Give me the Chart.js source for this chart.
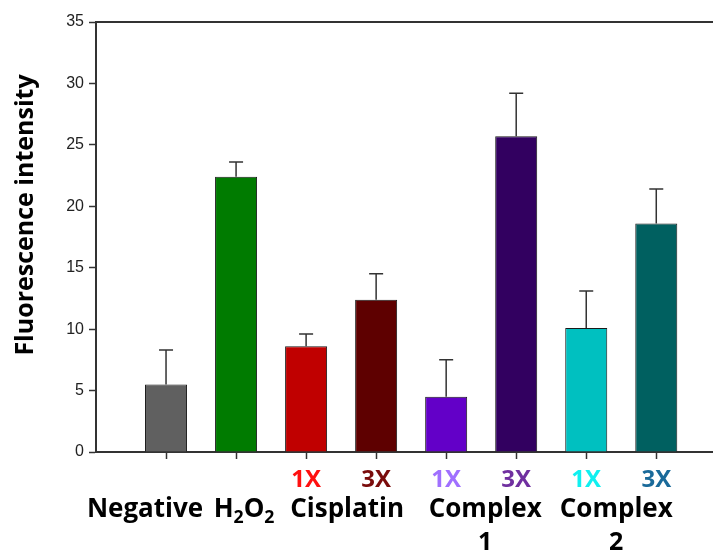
<!DOCTYPE html>
<html lang="en">
<head>
  <meta charset="UTF-8">
  <title>Fluorescence intensity</title>
  <script src="https://cdn.jsdelivr.net/npm/chart.js"></script>
  <style>
    body { margin: 0; background: #fff; }
    .wrap { width: 713px; height: 554px; position: relative; }
  </style>
</head>
<body>
<div class="wrap"><canvas id="chart"></canvas></div>
<script>
const categories = ['Negative', 'H2O2', 'Cisplatin 1X', 'Cisplatin 3X', 'Complex 1 1X', 'Complex 1 3X', 'Complex 2 1X', 'Complex 2 3X'];
const values = [5.5, 22.4, 8.6, 12.4, 4.5, 25.7, 10.1, 18.6];
const errors = [2.8, 1.2, 1.0, 2.1, 3.0, 3.5, 3.0, 2.8];
const barColors = ['#606060', '#007b00', '#c00000', '#5e0000', '#6300c8', '#320060', '#00c0c0', '#006060'];
const tickLabels = ['', '', '1X', '3X', '1X', '3X', '1X', '3X'];
const tickColors = ['#000', '#000', '#ff1010', '#7a0c0c', '#a070ff', '#7030a0', '#10f0f0', '#1a6a9a'];
const groupLabels = ['Negative', 'H₂O₂', 'Cisplatin', 'Complex', 'Complex'];
const groupSubLabels = ['', '', '', '1', '2'];
const groupSpans = [[0, 0], [1, 1], [2, 3], [4, 5], [6, 7]];
const yTicks = [0, 5, 10, 15, 20, 25, 30, 35];

const FONT = "'Open Sans', sans-serif";
const groupNudge = [-21, 8, 6, 4, -5];  // hand placement like the original

// draw text, turning ₂ into a lowered small 2
function chemText(ctx, text, cx, y, size) {
  const parts = [...text].map(ch => ch === '₂' ? { t: '2', sub: true } : { t: ch, sub: false });
  let w = 0;
  parts.forEach(p => {
    ctx.font = 'bold ' + (p.sub ? size * 0.68 : size) + 'px ' + FONT;
    p.w = ctx.measureText(p.t).width;
    w += p.w;
  });
  let x = cx - w / 2;
  parts.forEach(p => {
    ctx.font = 'bold ' + (p.sub ? size * 0.68 : size) + 'px ' + FONT;
    ctx.fillText(p.t, x, p.sub ? y + size * 0.22 : y);
    x += p.w;
  });
}

const errorBars = {
  id: 'errorBars',
  afterDatasetsDraw(chart) {
    const { ctx, scales: { y } } = chart;
    const meta = chart.getDatasetMeta(0);
    ctx.save();
    ctx.strokeStyle = '#333';
    ctx.lineWidth = 1.5;
    meta.data.forEach((bar, i) => {
      const top = y.getPixelForValue(values[i] + errors[i]);
      ctx.beginPath();
      ctx.moveTo(bar.x, bar.y);
      ctx.lineTo(bar.x, top);
      ctx.moveTo(bar.x - 7, top);
      ctx.lineTo(bar.x + 7, top);
      ctx.stroke();
    });
    ctx.restore();
  }
};

const extraText = {
  id: 'extraText',
  afterDraw(chart) {
    const { ctx, chartArea, scales: { x } } = chart;
    ctx.save();
    ctx.fillStyle = '#000';
    ctx.textAlign = 'left';
    ctx.textBaseline = 'alphabetic';
    groupLabels.forEach((lab, g) => {
      const [a, b] = groupSpans[g];
      const cx = (x.getPixelForValue(a + 1) + x.getPixelForValue(b + 1)) / 2 + groupNudge[g];
      chemText(ctx, lab, cx, chartArea.bottom + 65, 26);
      if (groupSubLabels[g]) chemText(ctx, groupSubLabels[g], cx, chartArea.bottom + 98, 25);
    });
    // y axis title
    ctx.translate(26, chartArea.top + 193);
    ctx.rotate(-Math.PI / 2);
    ctx.textAlign = 'center';
    ctx.textBaseline = 'middle';
    ctx.font = 'bold 25px ' + FONT;
    ctx.fillText('Fluorescence intensity', 0, 0);
    ctx.restore();
  }
};

new Chart(document.getElementById('chart'), {
  type: 'bar',
  data: {
    datasets: [{
      data: values.map((v, i) => ({ x: i + 1, y: v })),
      backgroundColor: barColors,
      borderColor: '#1a1a1a',
      borderWidth: 1,
      barPercentage: 0.6,
      categoryPercentage: 1
    }]
  },
  options: {
    responsive: true,
    maintainAspectRatio: false,
    animation: false,
    layout: { padding: { top: 22, right: 0, bottom: 0, left: 0 } },
    plugins: { legend: { display: false }, tooltip: { enabled: false } },
    scales: {
      x: {
        type: 'linear',
        position: 'bottom',
        min: 0,
        max: 8.81,
        offset: false,
        afterBuildTicks: s => { s.ticks = categories.map((c, i) => ({ value: i + 1 })); },
        afterFit: s => { s.height = 102; },
        grid: { offset: false, drawOnChartArea: false, drawTicks: true, tickLength: 7, tickColor: '#333', tickWidth: 1.5 },
        border: { color: '#333', width: 2 },
        ticks: {
          autoSkip: false,
          maxRotation: 0,
          padding: 7,
          callback: (v, i) => tickLabels[i],
          color: c => tickColors[c.index],
          font: { family: FONT, size: 24, weight: 'bold' }
        }
      },
      xTop: {
        type: 'linear',
        position: 'top',
        min: 0,
        max: 8.81,
        afterFit: s => { s.height = 0; },
        grid: { drawOnChartArea: false, drawTicks: false },
        border: { color: '#333', width: 2 },
        ticks: { display: false }
      },
      y: {
        min: 0,
        max: 35,
        afterBuildTicks: s => { s.ticks = yTicks.map(v => ({ value: v })); },
        afterFit: s => { s.width = 96; },
        grid: { drawOnChartArea: false, drawTicks: true, tickLength: 7, tickColor: '#333', tickWidth: 1.5 },
        border: { color: '#333', width: 2 },
        ticks: {
          padding: 5,
          color: '#222',
          font: { family: "'Liberation Sans', Arial, sans-serif", size: 16 }
        }
      }
    }
  },
  plugins: [errorBars, extraText]
});
</script>
</body>
</html>
